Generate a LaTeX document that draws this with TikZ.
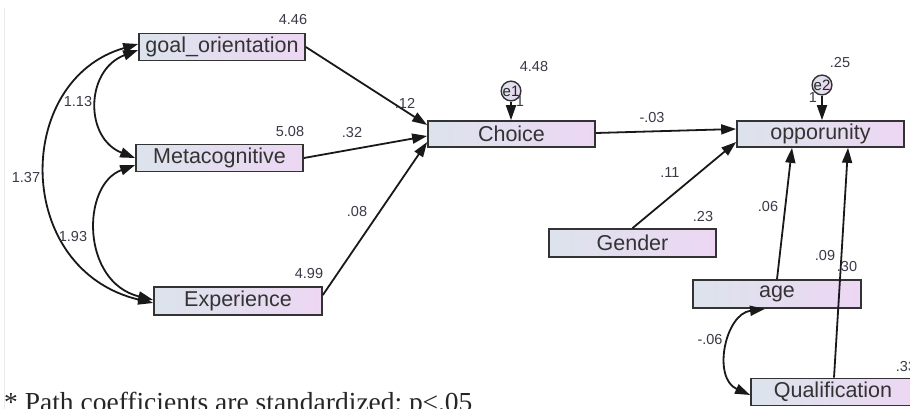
\documentclass[tikz,border=0pt]{standalone}
\usepackage{fontspec}
\setmainfont{Liberation Serif}
\newfontfamily\boxfont{Liberation Sans}
\usetikzlibrary{arrows.meta,shadings}
\definecolor{boxL}{HTML}{DCE3EC}
\definecolor{boxR}{HTML}{EDD7F3}
\definecolor{edge}{HTML}{333333}
\definecolor{numc}{HTML}{3A3A48}
\tikzset{
  varbox/.style={rectangle, draw=edge, line width=1.7pt, left color=boxL, right color=boxR,
    inner sep=0pt, font=\boxfont\fontsize{21.5}{21.5}\selectfont, text=black!80},
  errc/.style={circle, draw=edge, line width=1.4pt, inner sep=0pt, minimum size=19pt,
    left color=boxL, right color=boxR, font=\boxfont\fontsize{15}{15}\selectfont, text=black!85},
  num/.style={font=\boxfont\fontsize{14.5}{14.5}\selectfont, text=numc, inner sep=0pt},
  path/.style={draw=black!90, line width=1.8pt, -{Triangle[length=15pt,width=10pt]}},
  cov/.style={draw=black!90, line width=1.8pt, {Triangle[length=15pt,width=10pt]}-{Triangle[length=15pt,width=10pt]}}
}
\begin{document}
\begin{tikzpicture}[x=1pt,y=-1pt]
\useasboundingbox (0,0) rectangle (910,409);
\fill[white] (0,0) rectangle (910,409);
\draw[black!8, line width=0.8pt] (4,8) -- (4,409);

% observed variables
\node[varbox, minimum width=166pt, minimum height=27pt] (goal) at (222,47) {goal\_orientation};
\node[varbox, minimum width=167pt, minimum height=27pt] (meta) at (219.5,158) {Metacognitive};
\node[varbox, minimum width=168pt, minimum height=28pt] (exp) at (238,301) {Experience};
\node[varbox, minimum width=167pt, minimum height=26pt] (choice) at (511.5,134) {Choice};
\node[varbox, minimum width=167pt, minimum height=26pt] (opp) at (820.5,134) {opporunity};
\node[varbox, minimum width=167pt, minimum height=28pt] (gender) at (632.5,243) {Gender};
\node[varbox, minimum width=168pt, minimum height=28pt] (age) at (777,294) {age};
\node[varbox, minimum width=164pt, minimum height=27pt] (qual) at (833,392) {Qualification};

% error terms
\node[errc] (e1) at (511,91) {e1};
\node[errc] (e2) at (822,85) {e2};

% paths
\draw[path] (goal.east) -- ([yshift=9pt]choice.west);
\draw[path] (meta.east) -- ([yshift=-2pt]choice.west);
\draw[path] ([yshift=6pt]exp.east) -- ([yshift=-8pt]choice.west);
\draw[path] ([yshift=1pt]choice.east) -- ([yshift=5pt]opp.west);
\draw[path] (gender.north) -- ([yshift=-8pt]opp.west);
\draw[path] (age.north) -- ([xshift=-28.5pt]opp.south);
\draw[path] ([xshift=1pt]qual.north) -- ([xshift=27.5pt]opp.south);
\draw[path] (e1.south) -- (e1.south |- choice.north);
\draw[path] (e2.south) -- (e2.south |- opp.north);

% covariances
\draw[cov] ([yshift=-3pt]goal.west) .. controls +(-53,20) and +(-51,-20) .. (meta.west);
\draw[cov] ([yshift=3pt]goal.west) .. controls (13,80) and (13,270) .. ([yshift=-2pt]exp.west);
\draw[cov] ([yshift=-7pt]meta.west) .. controls (81,185) and (81,282) .. ([yshift=1pt]exp.west);
\draw[cov] ([xshift=-12pt]age.south) .. controls (725,314) and (712,378) .. ([yshift=-3pt]qual.west);

% estimates
\node[num] (n1) at (293,20) {4.46};
\node[num] (n2) at (290,132) {5.08};
\node[num] (n3) at (309,274) {4.99};
\node[num] (n4) at (405,103) {.12};
\node[num] (n5) at (352,133) {.32};
\node[num] (n6) at (357,212) {.08};
\node[num] (n7) at (534,67) {4.48};
\node[num] (n8) at (652,118) {-.03};
\node[num] (n9) at (840,63) {.25};
\node[num] (n10) at (670,173) {.11};
\node[num] (n11) at (703,217) {.23};
\node[num] (n12) at (768,207) {.06};
\node[num] (n13) at (825,256) {.09};
\node[num] (n14) at (847,267) {.30};
\node[num] (n15) at (710,340) {-.06};
\node[num] (n16) at (906,367) {.33};
\node[num] (n17) at (78,102) {1.13};
\node[num] (n18) at (26,178) {1.37};
\node[num] (n19) at (73,237) {1.93};
\node[num] (o1) at (520,102) {1};
\node[num] (o2) at (813,98) {1};

% caption
\node[anchor=base west, inner sep=0pt, font=\fontsize{27.5}{27.5}\selectfont, text=black!85] (cap) at (4,411) {* Path coefficients are standardized; p≤.05};
\end{tikzpicture}
\end{document}
